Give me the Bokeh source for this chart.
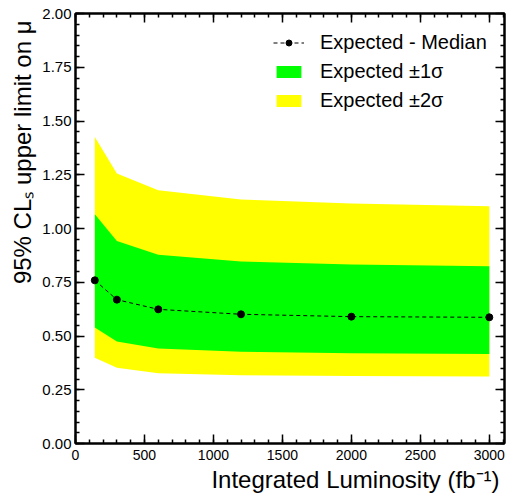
from bokeh.plotting import figure
from bokeh.models import (LinearAxis, SingleIntervalTicker, NumeralTickFormatter,
                          Legend, LegendItem, Range1d, Title)
from bokeh.embed import file_html
from bokeh.resources import INLINE

# ---- data ----
lumi = [140, 300, 600, 1200, 2000, 3000]
median = [0.759, 0.669, 0.624, 0.601, 0.590, 0.587]
sig1_lo = [0.539, 0.475, 0.442, 0.427, 0.420, 0.416]
sig1_hi = [1.066, 0.942, 0.878, 0.846, 0.833, 0.824]
sig2_lo = [0.399, 0.352, 0.327, 0.317, 0.314, 0.312]
sig2_hi = [1.426, 1.256, 1.178, 1.135, 1.116, 1.103]

x_title = "Integrated Luminosity (fb\u207b\u00b9)"
y_title = "95% CL\u209b upper limit on \u03bc"
legend_labels = ["Expected - Median", "Expected \u00b11\u03c3", "Expected \u00b12\u03c3"]

FONT = "Liberation Sans"

p = figure(width=511, height=494, output_backend="svg", toolbar_location=None,
           x_range=Range1d(0, 3110), y_range=Range1d(0, 2.0),
           min_border_left=75, min_border_right=7, min_border_top=13, min_border_bottom=51)
p.xgrid.visible = False
p.ygrid.visible = False
p.outline_line_color = "black"
p.outline_line_width = 2
p.background_fill_color = "white"

r2 = p.varea(x=lumi, y1=sig2_lo, y2=sig2_hi, fill_color="#ffff00")
r1 = p.varea(x=lumi, y1=sig1_lo, y2=sig1_hi, fill_color="#00ff00")
rl = p.line(lumi, median, line_color="black", line_width=1, line_dash="4 3")
rs = p.scatter(lumi, median, size=7, fill_color="black", line_color="black")

xt = SingleIntervalTicker(interval=500, num_minor_ticks=5)
yt = SingleIntervalTicker(interval=0.25, num_minor_ticks=5)

def style_axis(ax, labels=True):
    ax.major_tick_in = 9
    ax.major_tick_out = 0
    ax.minor_tick_in = 4
    ax.minor_tick_out = 0
    ax.major_tick_line_width = 1.5
    ax.minor_tick_line_width = 1.5
    ax.axis_line_width = 2
    ax.major_label_text_font = FONT
    ax.major_label_text_color = "black"
    if not labels:
        ax.major_label_text_font_size = "0px"
        ax.major_label_text_color = None
        ax.major_label_standoff = 0

xa = p.xaxis[0]
ya = p.yaxis[0]
xa.ticker = xt
ya.ticker = yt
ya.formatter = NumeralTickFormatter(format="0.00")
style_axis(xa)
style_axis(ya)
xa.major_label_text_font_size = "14px"
ya.major_label_text_font_size = "15px"
xa.major_label_standoff = 6
ya.major_label_standoff = 4

ta = LinearAxis(ticker=xt)
ra = LinearAxis(ticker=yt)
style_axis(ta, labels=False)
style_axis(ra, labels=False)
p.add_layout(ta, "above")
p.add_layout(ra, "right")

# axis titles, right-aligned to the axis ends (ROOT style)
p.add_layout(Title(text=x_title, align="right", text_font=FONT, text_font_size="24px",
                   text_font_style="normal", text_color="black", standoff=3, offset=5), "below")
p.add_layout(Title(text=y_title, align="right", text_font=FONT, text_font_size="24px",
                   text_font_style="normal", text_color="black", standoff=8, offset=7), "left")

legend = Legend(items=[LegendItem(label=legend_labels[0], renderers=[rl, rs]),
                       LegendItem(label=legend_labels[1], renderers=[r1]),
                       LegendItem(label=legend_labels[2], renderers=[r2])],
                location=(198, 331), orientation="vertical")
legend.border_line_color = None
legend.background_fill_alpha = 0
legend.padding = 0
legend.margin = 0
legend.spacing = 6
legend.glyph_width = 31
legend.glyph_height = 15
legend.label_height = 20
legend.label_standoff = 16
legend.label_text_font = FONT
legend.label_text_font_size = "20px"
legend.label_text_color = "black"
p.add_layout(legend, "center")

open("out.html", "w").write(file_html(p, INLINE))
